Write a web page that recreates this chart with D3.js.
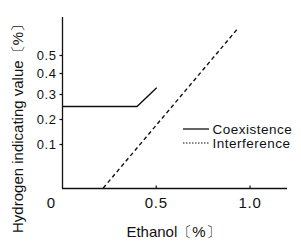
<!DOCTYPE html>
<html>
<head>
<meta charset="utf-8">
<script src="https://cdn.jsdelivr.net/npm/d3@7"></script>
<style>
  body { margin: 0; background: #fff; }
  text { font-family: "Liberation Sans", Arial, sans-serif; fill: #111; }
</style>
</head>
<body>
<div id="chart"></div>
<script>
  // Data
  const coexistX = [0, 0.40, 0.505];
  const coexistY = [0.25, 0.25, 0.33];
  const interfX = [0.22, 0.94];
  const interfY = [0, 0.65];
  const yTicks = [0.1, 0.2, 0.3, 0.4, 0.5];
  const xTicks = [0.5, 1.0];

  const width = 301, height = 241;
  const svg = d3.select('#chart')
    .append('svg')
      .attr('width', width)
      .attr('height', height);

  // x is linear, y axis of the original is uneven so use a piecewise scale
  const x = d3.scaleLinear().domain([0, 1.2]).range([62, 287]);
  const y = d3.scaleLinear()
    .domain([0, 0.1, 0.2, 0.3, 0.4, 0.5, 0.7])
    .range([188, 144, 119, 94, 73, 55, 19]);

  // axis lines
  svg.append('line')
    .attr('x1', 62.5).attr('x2', 62.5)
    .attr('y1', 17).attr('y2', 188.5)
    .attr('stroke', '#111').attr('stroke-width', 1.3);
  svg.append('line')
    .attr('x1', 62).attr('x2', 287)
    .attr('y1', 188.5).attr('y2', 188.5)
    .attr('stroke', '#111').attr('stroke-width', 1.3);

  // y ticks
  const yAxis = svg.append('g')
    .attr('transform', 'translate(62.5,0)')
    .call(d3.axisLeft(y).tickValues(yTicks).tickSize(3).tickPadding(3).tickFormat(d3.format('.1f')));
  yAxis.select('.domain').remove();
  yAxis.selectAll('line').attr('stroke', '#111').attr('stroke-width', 1.2);
  yAxis.selectAll('text')
    .attr('font-family', null)
    .style('font-size', '13px')
    .style('letter-spacing', '0.6px');

  // x ticks, pointing inwards
  const xAxis = svg.append('g')
    .attr('transform', 'translate(0,188.5)')
    .call(d3.axisBottom(x).tickValues(xTicks).tickSize(-3).tickPadding(8).tickFormat(d3.format('.1f')));
  xAxis.select('.domain').remove();
  xAxis.selectAll('line').attr('stroke', '#111').attr('stroke-width', 1.2);
  xAxis.selectAll('text')
    .attr('font-family', null)
    .attr('dy', null)
    .attr('y', 19.5)
    .style('font-size', '15px')
    .style('letter-spacing', '0.8px');

  // corner zero label
  svg.append('text')
    .attr('x', 51).attr('y', 208)
    .attr('text-anchor', 'middle')
    .style('font-size', '15px')
    .text('0');

  // axis titles
  svg.append('text')
    .attr('x', 173.5).attr('y', 237)
    .attr('text-anchor', 'middle')
    .style('font-size', '15px')
    .text('Ethanol〔%〕');
  svg.append('text')
    .attr('transform', 'translate(23,125) rotate(-90)')
    .attr('text-anchor', 'middle')
    .style('font-size', '15px')
    .text('Hydrogen indicating value〔%〕');

  const line = d3.line().x(d => x(d[0])).y(d => y(d[1]));

  svg.append('path')
    .datum(d3.zip(coexistX, coexistY))
    .attr('d', line)
    .attr('fill', 'none')
    .attr('stroke', '#111')
    .attr('stroke-width', 1.4);

  svg.append('path')
    .datum(d3.zip(interfX, interfY))
    .attr('d', line)
    .attr('fill', 'none')
    .attr('stroke', '#111')
    .attr('stroke-width', 1.4)
    .attr('stroke-dasharray', '4,3');

  // legend
  const legend = svg.append('g');
  legend.append('line')
    .attr('x1', 183).attr('x2', 209).attr('y1', 129).attr('y2', 129)
    .attr('stroke', '#111').attr('stroke-width', 1.3);
  legend.append('line')
    .attr('x1', 183).attr('x2', 209).attr('y1', 143).attr('y2', 143)
    .attr('stroke', '#111').attr('stroke-width', 1.2)
    .attr('stroke-dasharray', '1.5,1.5');
  legend.append('text')
    .attr('x', 212.5).attr('y', 134)
    .style('font-size', '13.5px')
    .style('letter-spacing', '0.5px')
    .text('Coexistence');
  legend.append('text')
    .attr('x', 212.5).attr('y', 148)
    .style('font-size', '13.5px')
    .style('letter-spacing', '0.5px')
    .text('Interference');
</script>
</body>
</html>
